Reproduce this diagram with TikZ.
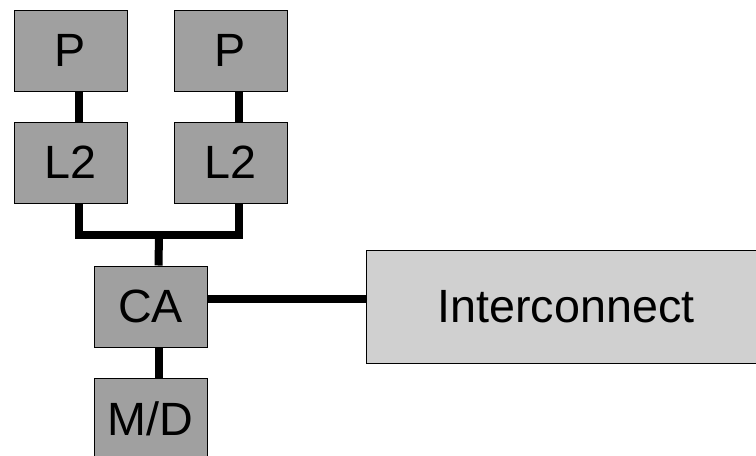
\documentclass[tikz,border=0pt]{standalone}
\usepackage{fontspec}
\setmainfont{Liberation Sans}

\begin{document}
\begin{tikzpicture}[x=0.75pt,y=-0.75pt,
  unit/.style={draw=black,line width=0.75pt,fill={rgb,255:red,160;green,160;blue,160},
    minimum width=84.75pt,minimum height=60.75pt,inner sep=0pt,
    font=\fontsize{35}{42}\selectfont},
  net/.style={unit,fill={rgb,255:red,208;green,208;blue,208},minimum width=300pt,minimum height=84.75pt},
  link/.style={line width=6pt}
]
  \useasboundingbox (0,0) rectangle (756,455);
  \draw (70.5,50.5) node[unit] (p1) {P}
        (230.5,50.5) node[unit] (p2) {P}
        (70.5,162.5) node[unit] (l1) {L2}
        (230.5,162.5) node[unit] (l2) {L2}
        (150.5,306.5) node[unit] (ca) {CA}
        (150.5,418.5) node[unit] (md) {M/D}
        (566,306.5) node[net] (ic) {Interconnect};
  \coordinate (bus) at (159,234.5);
  \draw[link] ([xshift=6pt]p1.south) -- ([xshift=6pt]l1.north);
  \draw[link] ([xshift=6pt]p2.south) -- ([xshift=6pt]l2.north);
  \draw[link] ([xshift=6pt]l1.south) |- (bus) -| ([xshift=6pt]l2.south);
  \draw[link] (bus) -- ([xshift=6pt]ca.north);
  \draw[link] ([xshift=6pt]ca.south) -- ([xshift=6pt]md.north);
  \draw[link] ([yshift=6pt]ca.east) -- ([yshift=6pt]ic.west);
\end{tikzpicture}
\end{document}
